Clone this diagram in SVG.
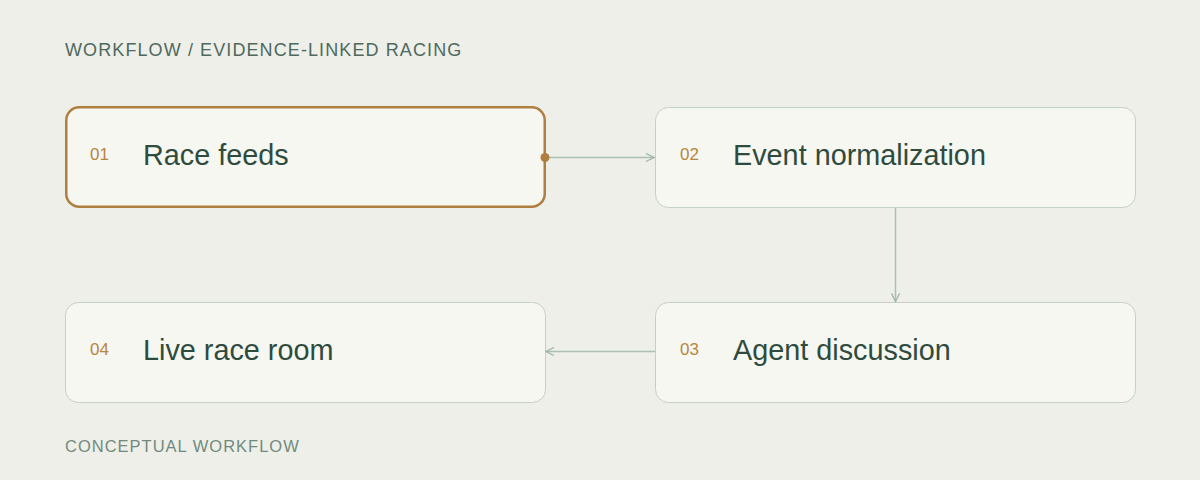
<svg xmlns="http://www.w3.org/2000/svg" width="1200" height="480" viewBox="0 0 1200 480">
  <defs>
    <style>
      .node { fill: #f6f7f1; stroke: #c4d0c7; stroke-width: 1; }
      .node.active { stroke: #b07e3f; stroke-width: 2.5; }
      .num { font-family: "Liberation Sans", Arial, sans-serif; font-size: 17px; fill: #b8853f; }
      .label { font-family: "Liberation Sans", Arial, sans-serif; font-size: 28.8px; fill: #2f4b3e; }
      .title { font-family: "Liberation Sans", Arial, sans-serif; font-size: 18px; letter-spacing: 1.1px; fill: #50695e; }
      .foot { font-family: "Liberation Sans", Arial, sans-serif; font-size: 16.5px; letter-spacing: 1px; fill: #728a7e; }
      .conn { fill: none; stroke: #abbfb3; stroke-width: 1.5; }
    </style>
    <marker id="arrow" viewBox="0 0 10 10" refX="9" refY="5" markerWidth="10" markerHeight="10" markerUnits="userSpaceOnUse" orient="auto">
      <path d="M1,1 L9,5 L1,9" fill="none" stroke="#9fb5a8" stroke-width="1.3"/>
    </marker>
  </defs>
  <rect x="0" y="0" width="1200" height="480" fill="#edefe8"/>
  <text class="title" x="65" y="56">WORKFLOW / EVIDENCE-LINKED RACING</text>

  <g id="node-01">
    <rect class="node active" x="66.25" y="107.25" width="478.5" height="99.5" rx="13"/>
    <text class="num" x="90" y="160">01</text>
    <text class="label" x="143" y="164.5">Race feeds</text>
  </g>
  <g id="node-02">
    <rect class="node" x="655.5" y="107.5" width="480" height="100" rx="13"/>
    <text class="num" x="680" y="160">02</text>
    <text class="label" x="733" y="164.5">Event normalization</text>
  </g>
  <g id="node-03">
    <rect class="node" x="655.5" y="302.5" width="480" height="100" rx="13"/>
    <text class="num" x="680" y="355">03</text>
    <text class="label" x="733" y="359.5">Agent discussion</text>
  </g>
  <g id="node-04">
    <rect class="node" x="65.5" y="302.5" width="480" height="100" rx="13"/>
    <text class="num" x="90" y="355">04</text>
    <text class="label" x="143" y="359.5">Live race room</text>
  </g>

  <g id="connectors">
    <line class="conn" x1="549" y1="157.5" x2="654" y2="157.5" marker-end="url(#arrow)"/>
    <line class="conn" x1="895.5" y1="208" x2="895.5" y2="301.5" marker-end="url(#arrow)"/>
    <line class="conn" x1="655" y1="351.5" x2="546" y2="351.5" marker-end="url(#arrow)"/>
    <circle cx="545" cy="157.5" r="4.5" fill="#b07e3f"/>
  </g>

  <text class="foot" x="65" y="452">CONCEPTUAL WORKFLOW</text>
</svg>
